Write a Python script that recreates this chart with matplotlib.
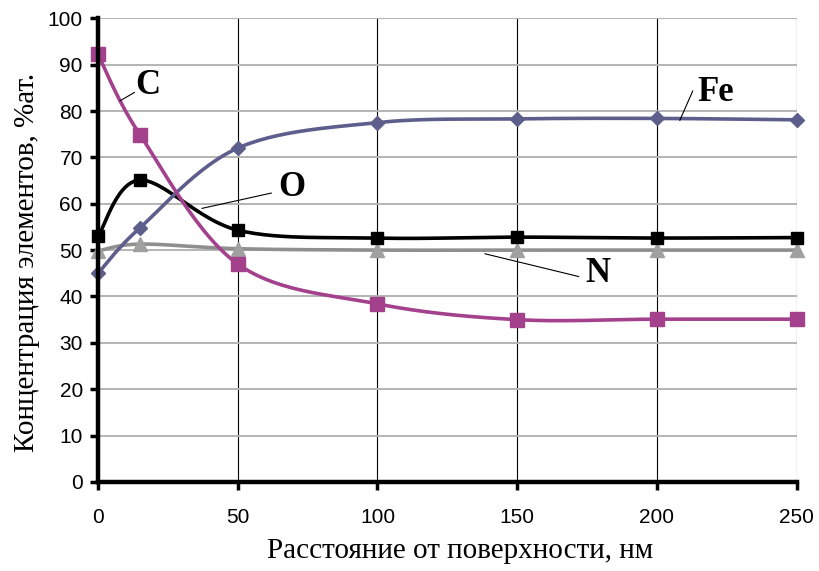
import numpy as np
import matplotlib.pyplot as plt

# depth profile, at.% of each element
depth = [0, 15, 50, 100, 150, 200, 250]
fe = [45.0, 54.8, 72.0, 77.5, 78.3, 78.4, 78.1]
c = [92.2, 74.9, 47.0, 38.4, 35.0, 35.1, 35.1]
o = [53.0, 65.1, 54.3, 52.6, 52.8, 52.6, 52.7]
n = [49.8, 51.3, 50.3, 50.0, 50.0, 50.0, 50.0]

xticks = [0, 50, 100, 150, 200, 250]
yticks = list(range(0, 101, 10))


def smooth(xs, ys, sx, sy, steps=30):
    """Bezier smoothing through the points (Excel-style), done in pixel space."""
    p = np.column_stack([np.asarray(xs) * sx, np.asarray(ys) * sy])
    pts = []
    for i in range(len(p) - 1):
        p0 = p[i - 1] if i > 0 else p[i]
        p3 = p[i + 2] if i + 2 < len(p) else p[i + 1]
        c1 = p[i] + (p[i + 1] - p0) / 6
        c2 = p[i + 1] - (p3 - p[i]) / 6
        t = np.linspace(0, 1, steps)[:, None]
        seg = ((1 - t) ** 3 * p[i] + 3 * (1 - t) ** 2 * t * c1
               + 3 * (1 - t) * t ** 2 * c2 + t ** 3 * p[i + 1])
        pts.append(seg if i == 0 else seg[1:])
    pts = np.vstack(pts)
    return pts[:, 0] / sx, pts[:, 1] / sy


fig = plt.figure(figsize=(8.19, 5.71), dpi=100)
ax = fig.add_axes([0.1197, 0.156, 0.853, 0.812])
sx, sy = 699 / 250, 464 / 100

series = [
    (n, '#8f8f8f', '^', '#a0a0a0', 10),
    (o, 'black', 's', 'black', 8),
    (fe, '#5e5e8c', 'D', '#5e5e8c', 7.5),
    (c, '#a3418d', 's', '#a3418d', 10.5),
]
for ys, col, mk, mcol, ms in series:
    xs_s, ys_s = smooth(depth, ys, sx, sy)
    ax.plot(xs_s, ys_s, color=col, lw=2.6, zorder=3, solid_capstyle='round')
    ax.plot(depth, ys, ls='none', marker=mk, ms=ms, color=mcol, zorder=4,
            clip_on=False)

ax.set_xlim(0, 250)
ax.set_ylim(0, 100)
ax.set_xticks(xticks)
ax.set_yticks(yticks)
ax.grid(axis='y', color='#b4b4b4', lw=1.4, zorder=1)
ax.grid(axis='x', color='black', lw=0.8, zorder=1)
for s in ['top', 'right']:
    ax.spines[s].set_visible(False)
ax.spines['left'].set_linewidth(3.2)
ax.spines['bottom'].set_linewidth(3.2)
ax.spines['left'].set_zorder(5)
ax.spines['bottom'].set_zorder(5)
ax.tick_params(axis='both', direction='out', length=6, width=2.5,
               labelsize=15, pad=5)
ax.tick_params(axis='x', pad=13)
for lbl in ax.get_xticklabels() + ax.get_yticklabels():
    lbl.set_family('Liberation Sans')

serif = 'Liberation Serif'
ax.set_xlabel('Расстояние от поверхности, нм', family=serif, fontsize=21)
ax.set_ylabel('Концентрация элементов, %ат.', family=serif, fontsize=21)
ax.xaxis.set_label_coords(0.518, -0.122)
ax.yaxis.set_label_coords(-0.083, 0.474)

# element labels with leader lines
labels = [
    ('C', (17.9, 85.6), (7.9, 82.2), (13.0, 84.0)),
    ('O', (69.4, 63.6), (37.2, 59.0), (62.0, 62.3)),
    ('Fe', (221.0, 84.0), (208.2, 78.0), (212.8, 84.3)),
    ('N', (179.0, 45.0), (138.5, 49.2), (172.0, 44.3)),
]
for txt, pos, start, end in labels:
    ax.plot([start[0], end[0]], [start[1], end[1]], color='black', lw=0.8,
            zorder=5)
    ax.text(pos[0], pos[1], txt, family=serif, fontweight='bold',
            fontsize=25, ha='center', va='center', zorder=6)

fig.savefig('out.png', dpi=100)
